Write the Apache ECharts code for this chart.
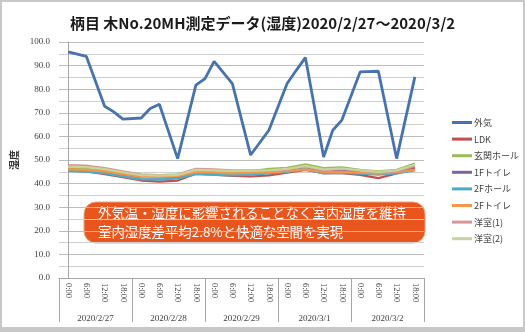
<!DOCTYPE html>
<html>
<head>
<meta charset="utf-8">
<script src="https://cdn.jsdelivr.net/npm/echarts@6/dist/echarts.min.js"></script>
<style>
  html, body { margin: 0; padding: 0; background: #ffffff; }
  #chart { width: 525px; height: 332px; }
</style>
</head>
<body>
<div id="chart"></div>
<script>
// Time-of-day labels (4 per day) and day labels
const timeLabels = ['0:00', '6:00', '12:00', '18:00'];
const dayLabels = ['2020/2/27', '2020/2/28', '2020/2/29', '2020/3/1', '2020/3/2'];

// Outdoor humidity: slot index (6h steps, halves = 3h readings) and value (%)
const outdoorSlots  = [0, 1, 2, 2.5, 3, 4, 4.5, 5, 6, 7, 7.5, 8, 9, 10, 11, 12, 12.5, 13, 14, 14.5, 15, 16, 17, 18, 19];
const outdoorValues = [95.8, 93.9, 72.8, 70.4, 67.3, 67.8, 71.8, 73.6, 50.6, 81.7, 84.5, 91.8, 82.4, 52.1, 62.6, 82.4, 88.0, 93.4, 51.3, 62.6, 66.9, 87.3, 87.6, 50.6, 85.2];

// Indoor humidity per room, one value per 6h slot (%)
const ldk      = [45.5, 45.2, 44.0, 42.7, 41.3, 40.8, 41.3, 44.2, 43.8, 43.3, 43.0, 43.5, 44.6, 45.8, 44.4, 44.4, 43.7, 42.3, 44.3, 46.5];
const entrance = [46.5, 46.3, 45.6, 44.3, 43.0, 42.9, 43.3, 45.3, 45.2, 45.0, 45.2, 46.3, 46.7, 48.2, 46.6, 46.9, 45.8, 45.2, 45.8, 48.5];
const toilet1F = [45.8, 45.6, 45.0, 43.8, 42.6, 42.5, 42.8, 44.5, 44.4, 44.2, 44.4, 45.0, 45.7, 47.0, 45.2, 45.6, 44.9, 44.3, 45.0, 47.3];
const hall2F   = [45.3, 45.1, 44.3, 43.0, 41.8, 41.7, 42.2, 44.0, 43.7, 43.5, 43.8, 44.3, 45.0, 46.0, 44.3, 44.5, 44.2, 43.8, 44.3, 45.6];
const toilet2F = [46.0, 45.8, 45.2, 44.0, 42.8, 42.8, 43.2, 44.8, 44.6, 44.3, 44.5, 44.7, 45.3, 46.0, 44.8, 45.0, 44.6, 44.2, 44.8, 45.8];
const room1    = [47.8, 47.6, 46.6, 45.2, 43.9, 43.6, 43.9, 46.3, 46.0, 45.6, 45.6, 45.6, 46.0, 47.2, 45.6, 46.2, 45.5, 44.8, 45.1, 47.5];
const room2    = [47.2, 47.0, 46.1, 44.8, 43.6, 43.4, 43.7, 45.8, 45.6, 45.3, 45.4, 45.6, 46.2, 47.5, 46.0, 46.4, 45.6, 45.0, 45.6, 48.0];

const seriesNames = ['外気', 'LDK', '玄関ホール', '1Fトイレ', '2Fホール', '2Fトイレ', '洋室(1)', '洋室(2)'];
const seriesColors = ['#4672b0', '#c0504d', '#9bbb59', '#8064a2', '#4bacc6', '#f79646', '#d99694', '#c3d69b'];
const indoorSets = [ldk, entrance, toilet1F, hall2F, toilet2F, room1, room2];

const slotLabels = [];
dayLabels.forEach(() => timeLabels.forEach(t => slotLabels.push(t)));

const toPairs = (xs, ys) => xs.map((x, i) => [x, ys[i]]);
const indexPairs = ys => ys.map((v, i) => [i, v]);

const serifFont = '"Liberation Serif", "DejaVu Serif", serif';
const jpFont = '"Noto Sans CJK JP", "Noto Sans", sans-serif';

const series = [toPairs(outdoorSlots, outdoorValues)].concat(indoorSets.map(indexPairs)).map((d, i) => ({
  name: seriesNames[i],
  type: 'line',
  xAxisIndex: 2,
  yAxisIndex: 0,
  data: d,
  showSymbol: false,
  symbol: 'none',
  smooth: false,
  lineStyle: { color: seriesColors[i], width: i === 0 ? 2.8 : 2.2 },
  itemStyle: { color: seriesColors[i] },
  z: 2 + i
}));

const chart = echarts.init(document.getElementById('chart'), null, { renderer: 'canvas' });
chart.setOption({
  animation: false,
  backgroundColor: '#ffffff',
  title: {
    text: '柄目 木No.20MH測定データ(湿度)2020/2/27～2020/3/2',
    left: 'center',
    top: 11,
    textStyle: { fontFamily: jpFont, fontSize: 15, fontWeight: 'bold', color: '#1a1a1a' }
  },
  legend: {
    orient: 'vertical',
    left: 447,
    top: 113,
    itemWidth: 20,
    itemHeight: 3,
    itemGap: 7.6,
    icon: 'rect',
    data: seriesNames,
    textStyle: { fontFamily: jpFont, fontSize: 9, color: '#404040', padding: [0, 0, 0, -3] }
  },
  grid: { left: 59, right: 101, top: 42, bottom: 54, containLabel: false },
  xAxis: [
    {
      type: 'category',
      data: slotLabels,
      boundaryGap: true,
      position: 'bottom',
      axisLine: { show: true, lineStyle: { color: '#a6a6a6', width: 1 } },
      axisTick: { show: false },
      axisLabel: { interval: 0, rotate: -90, margin: 5, fontFamily: serifFont, fontSize: 8.5, color: '#404040' },
      splitLine: { show: false }
    },
    {
      type: 'category',
      data: dayLabels,
      boundaryGap: true,
      position: 'bottom',
      axisLine: { show: false },
      axisTick: { show: true, length: 44, lineStyle: { color: '#a6a6a6', width: 1 } },
      axisLabel: { interval: 0, margin: 36, fontFamily: serifFont, fontSize: 9, color: '#404040' },
      splitLine: { show: false }
    },
    {
      type: 'value',
      min: -0.5,
      max: 19.5,
      show: false
    }
  ],
  yAxis: {
    type: 'value',
    min: 0,
    max: 100,
    interval: 10,
    name: '湿度',
    nameLocation: 'middle',
    nameGap: 38,
    nameTextStyle: { fontFamily: jpFont, fontSize: 10, fontWeight: 'bold', color: '#333333' },
    axisLine: { show: true, lineStyle: { color: '#a6a6a6', width: 1 } },
    axisTick: { show: false },
    axisLabel: { margin: 9, fontFamily: serifFont, fontSize: 9, color: '#404040', formatter: v => v.toFixed(1) },
    splitLine: { show: true, lineStyle: { color: '#bdbdbd', width: 1 } },
    minorTick: { show: false, splitNumber: 2 },
    minorSplitLine: { show: true, lineStyle: { color: '#d0d0d0', width: 1 } }
  },
  graphic: [
    {
      type: 'rect',
      shape: { x: 1, y: 1, width: 523, height: 330 },
      style: { fill: 'none', stroke: '#c8c8c8', lineWidth: 2 },
      z: 100
    },
    {
      type: 'rect',
      shape: { x: 0, y: 327, width: 525, height: 5 },
      style: { fill: '#c8c8c8' },
      z: 100
    },
    {
      type: 'group',
      z: 50,
      children: [
        {
          type: 'rect',
          shape: { x: 84, y: 202, width: 341, height: 41, r: 12 },
          style: { fill: '#e8561e', stroke: '#f3a07c', lineWidth: 1 }
        },
        {
          type: 'text',
          x: 98,
          y: 213,
          style: {
            text: '外気温・湿度に影響されることなく室内湿度を維持',
            fill: '#ffffff',
            font: '13.4px "Noto Sans CJK JP", sans-serif',
            textVerticalAlign: 'middle'
          }
        },
        {
          type: 'text',
          x: 98,
          y: 232,
          style: {
            text: '室内湿度差平均2.8%と快適な空間を実現',
            fill: '#ffffff',
            font: '13.4px "Noto Sans CJK JP", sans-serif',
            textVerticalAlign: 'middle'
          }
        }
      ]
    }
  ],
  series: series
});
</script>
</body>
</html>
